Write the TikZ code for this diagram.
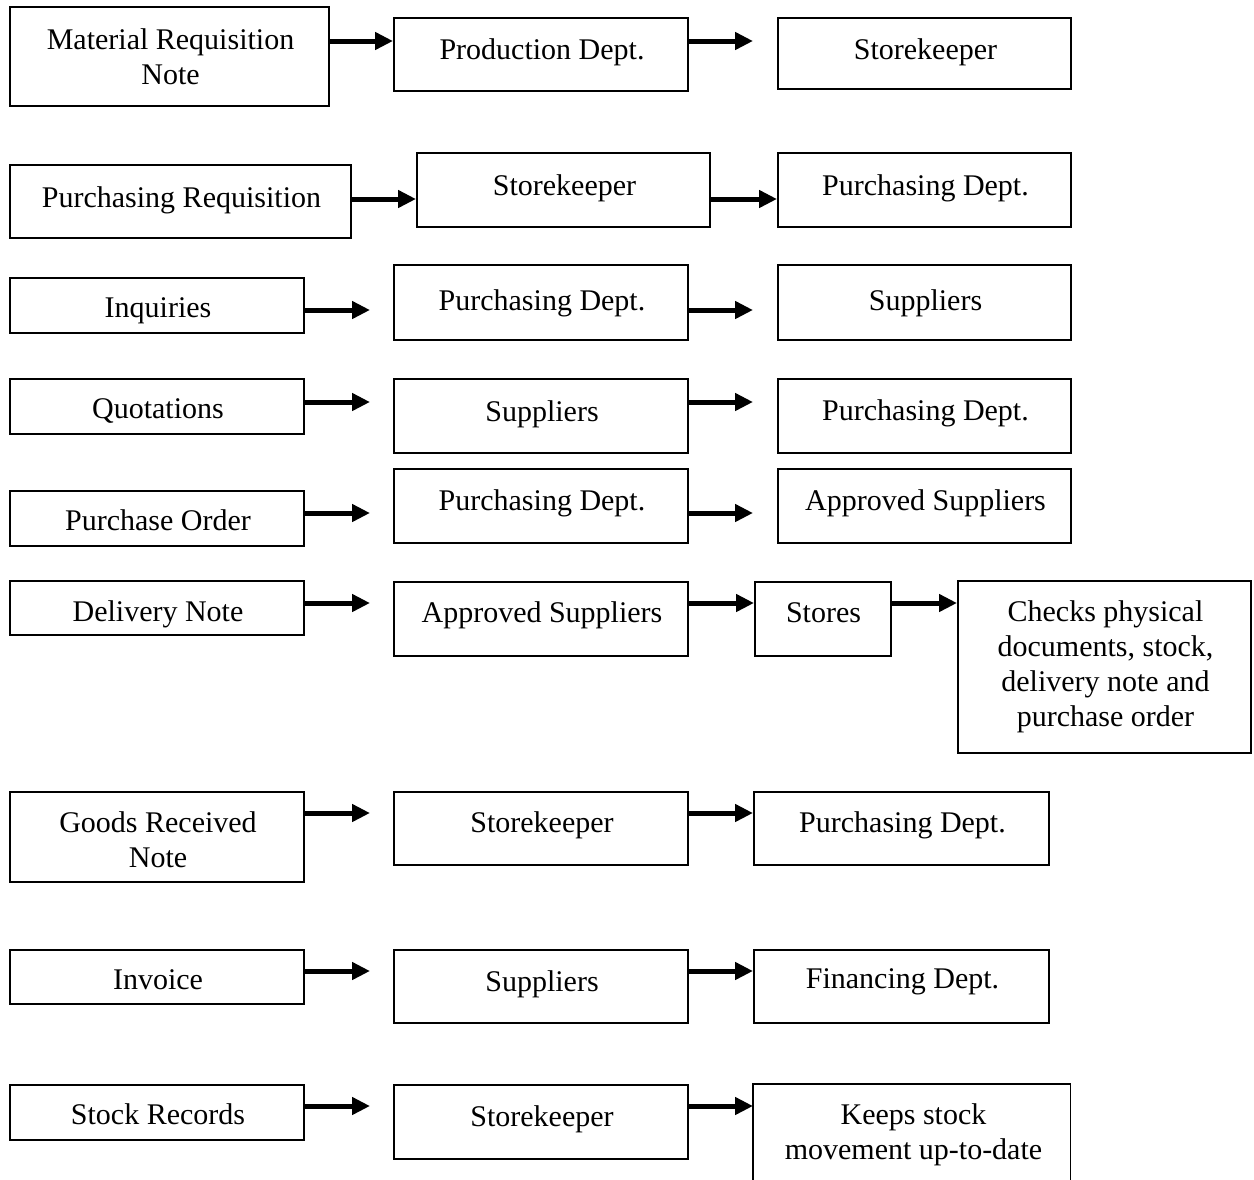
\documentclass[tikz,border=0pt]{standalone}
\usepackage{fontspec}
\setmainfont{Liberation Serif}
\usetikzlibrary{arrows.meta}
\newcommand\bx[5]{\node[box,anchor=north west,minimum width={(#4-#2)*1pt},minimum height={(#5-#3)*1pt}] (#1) at (#2,#3) {};}
\begin{document}
\begin{tikzpicture}[x=1pt,y=-1pt,
  box/.style={draw,line width=1.5pt,inner sep=0pt,rectangle},
  lbl/.style={inner sep=0pt,font=\fontsize{30}{35}\selectfont,text height=20pt,text depth=0pt},
  mlbl/.style={inner sep=0pt,font=\fontsize{30}{35}\selectfont,align=center},
  arr/.style={line width=5pt,-{Triangle[length=18pt,width=17pt]}}]
\useasboundingbox[fill=white] (0,0) rectangle (1254,1179);
% Row 1
\bx{mrn}{9}{6}{328}{105}
\bx{prod1}{393}{17}{687}{90}
\bx{sk1}{777}{17}{1070}{88}
\node[mlbl] (tmrn) at (170.5,56.5) {Material Requisition\\Note};
\node[lbl] (tprod1) at (542,49) {Production Dept.};
\node[lbl] (tsk1) at (925.5,49) {Storekeeper};
\coordinate (a1) at (393,41);
\coordinate (b1) at (753,41);
\draw[arr] (mrn.east |- a1) -- (prod1.west |- a1);
\draw[arr] (prod1.east |- b1) -- (b1);
% Row 2
\bx{pr}{9}{164}{350}{237}
\bx{sk2}{416}{152}{709}{226}
\bx{pd2}{777}{152}{1070}{226}
\node[lbl] (tpr) at (181.5,197) {Purchasing Requisition};
\node[lbl] (tsk2) at (564.5,185) {Storekeeper};
\node[lbl] (tpd2) at (925.5,185) {Purchasing Dept.};
\coordinate (a2) at (416,199);
\draw[arr] (pr.east |- a2) -- (sk2.west |- a2);
\draw[arr] (sk2.east |- a2) -- (pd2.west |- a2);
% Row 3
\bx{inq}{9}{277}{303}{332}
\bx{pd3}{393}{264}{687}{339}
\bx{sup3}{777}{264}{1070}{339}
\node[lbl] (tinq) at (158,307) {Inquiries};
\node[lbl] (tpd3) at (542,300) {Purchasing Dept.};
\node[lbl] (tsup3) at (925.5,300) {Suppliers};
\coordinate (a3) at (370,310);
\coordinate (b3) at (753,310);
\draw[arr] (inq.east |- a3) -- (a3);
\draw[arr] (pd3.east |- b3) -- (b3);
% Row 4
\bx{quo}{9}{378}{303}{433}
\bx{sup4}{393}{378}{687}{452}
\bx{pd4}{777}{378}{1070}{452}
\node[lbl] (tquo) at (158,408) {Quotations};
\node[lbl] (tsup4) at (542,411) {Suppliers};
\node[lbl] (tpd4) at (925.5,410) {Purchasing Dept.};
\coordinate (a4) at (370,402);
\coordinate (b4) at (753,402);
\draw[arr] (quo.east |- a4) -- (a4);
\draw[arr] (sup4.east |- b4) -- (b4);
% Row 5
\bx{po}{9}{490}{303}{545}
\bx{pd5}{393}{468}{687}{542}
\bx{as5}{777}{468}{1070}{542}
\node[lbl] (tpo) at (158,520) {Purchase Order};
\node[lbl] (tpd5) at (542,500) {Purchasing Dept.};
\node[lbl] (tas5) at (925.5,500) {Approved Suppliers};
\coordinate (a5) at (370,513);
\coordinate (b5) at (753,513);
\draw[arr] (po.east |- a5) -- (a5);
\draw[arr] (pd5.east |- b5) -- (b5);
% Row 6
\bx{dn}{9}{580}{303}{634}
\bx{as6}{393}{581}{687}{655}
\bx{sto}{754}{581}{890}{655}
\bx{chk}{957}{580}{1250}{752}
\node[lbl] (tdn) at (158,611) {Delivery Note};
\node[lbl] (tas6) at (542,612) {Approved Suppliers};
\node[lbl] (tsto) at (823.5,612) {Stores};
\node[mlbl] (tchk) at (1105.5,666.5) {Checks physical\\documents, stock,\\delivery note and\\purchase order};
\coordinate (a6) at (370,603);
\draw[arr] (dn.east |- a6) -- (a6);
\draw[arr] (as6.east |- a6) -- (sto.west |- a6);
\draw[arr] (sto.east |- a6) -- (chk.west |- a6);
% Row 7
\bx{grn}{9}{791}{303}{881}
\bx{sk7}{393}{791}{687}{864}
\bx{pd7}{753}{791}{1048}{864}
\node[mlbl] (tgrn) at (158,839.5) {Goods Received\\Note};
\node[lbl] (tsk7) at (542,822) {Storekeeper};
\node[lbl] (tpd7) at (902.5,822) {Purchasing Dept.};
\coordinate (a7) at (370,813);
\draw[arr] (grn.east |- a7) -- (a7);
\draw[arr] (sk7.east |- a7) -- (pd7.west |- a7);
% Row 8
\bx{inv}{9}{949}{303}{1003}
\bx{sup8}{393}{949}{687}{1022}
\bx{fin}{753}{949}{1048}{1022}
\node[lbl] (tinv) at (158,979) {Invoice};
\node[lbl] (tsup8) at (542,981) {Suppliers};
\node[lbl] (tfin) at (902.5,978) {Financing Dept.};
\coordinate (a8) at (370,971);
\draw[arr] (inv.east |- a8) -- (a8);
\draw[arr] (sup8.east |- a8) -- (fin.west |- a8);
% Row 9
\bx{sr}{9}{1084}{303}{1139}
\bx{sk9}{393}{1084}{687}{1158}
\node[inner sep=0pt,anchor=north west,minimum width=317pt,minimum height=100pt] (keep) at (753,1084) {};
\draw[line width=1.5pt,line join=miter] (keep.south west) -- (keep.north west) -- (keep.north east) -- (keep.south east);
\node[lbl] (tsr) at (158,1114) {Stock Records};
\node[lbl] (tsk9) at (542,1116) {Storekeeper};
\node[mlbl] (tkeep) at (913.5,1134.5) {Keeps stock\\movement up-to-date};
\coordinate (a9) at (370,1106);
\draw[arr] (sr.east |- a9) -- (a9);
\draw[arr] (sk9.east |- a9) -- (keep.west |- a9);
\end{tikzpicture}
\end{document}
